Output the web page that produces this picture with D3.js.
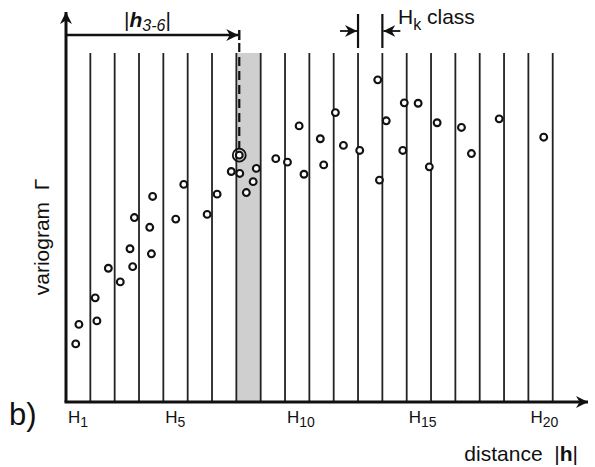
<!DOCTYPE html>
<html>
<head>
<meta charset="utf-8">
<script src="https://cdn.jsdelivr.net/npm/d3@7"></script>
<style>
  body { margin: 0; background: #fff; }
  text { font-family: "Liberation Sans", Arial, sans-serif; fill: #111; white-space: pre; }
</style>
</head>
<body>
<div id="chart"></div>
<script>
// lag classes H1..H20 (boundaries at 1..20 class widths)
const classBounds = d3.range(1, 21)
const classTicks = [1, 5, 10, 15, 20]

// experimental variogram points: distance (class units) and gamma
const distances = [0.40, 0.53, 1.20, 1.27, 1.74, 2.23, 2.63, 2.74, 2.81, 3.44, 3.51, 3.56,
  4.51, 4.84, 5.80, 6.21, 6.79, 7.12, 7.14, 7.41, 7.69, 7.82, 8.62, 9.10, 9.58, 9.78,
  10.45, 10.59, 11.07, 11.40, 12.07, 12.81, 12.88, 13.16, 13.84, 13.90, 14.47, 14.93,
  15.25, 16.25, 16.66, 17.80, 19.63]
const gammas = [1.49, 1.99, 2.67, 2.08, 3.43, 3.08, 3.93, 3.47, 4.73, 4.48, 3.80, 5.27,
  4.69, 5.58, 4.81, 5.33, 5.91, 6.33, 5.86, 5.37, 5.65, 5.99, 6.24, 6.15, 7.08, 5.84,
  6.75, 6.08, 7.42, 6.58, 6.45, 8.26, 5.69, 7.21, 6.45, 7.67, 7.66, 6.03,
  7.16, 7.04, 6.37, 7.26, 6.79]
const highlightIdx = 17   // the point marked |h3-6|
const shadedClass = 8     // grey class
const hkClass = 13        // class used for the "Hk class" bracket

const width = 595, height = 467
const x0 = 66, y0 = 402

const svg = d3.select('#chart').append('svg')
  .attr('width', width)
  .attr('height', height)

const x = d3.scaleLinear().domain([0, 21.45]).range([x0, 588])
const y = d3.scaleLinear().domain([0, 10]).range([y0, 12])
const lineTop = 8.95

const defs = svg.append('defs')
defs.append('marker')
  .attr('id', 'arrow')
  .attr('viewBox', '0 0 10 10')
  .attr('refX', 10).attr('refY', 5)
  .attr('markerWidth', 12).attr('markerHeight', 12)
  .attr('markerUnits', 'userSpaceOnUse')
  .attr('orient', 'auto')
  .append('path')
  .attr('d', 'M0,0 L10,5 L0,10 L3,5 Z')
  .attr('fill', '#111')

// shaded class
svg.append('rect')
  .attr('x', x(shadedClass - 1))
  .attr('y', y(lineTop))
  .attr('width', x(shadedClass) - x(shadedClass - 1))
  .attr('height', y(0) - y(lineTop))
  .attr('fill', '#cfcfcf')

// class boundaries
svg.append('g').selectAll('line')
  .data(classBounds)
  .enter().append('line')
  .attr('x1', d => x(d)).attr('x2', d => x(d))
  .attr('y1', y(lineTop)).attr('y2', y(0))
  .attr('stroke', '#222')
  .attr('stroke-width', 1.8)

// axes
svg.append('line')
  .attr('x1', x0).attr('y1', y0).attr('x2', x0).attr('y2', y(10))
  .attr('stroke', '#111').attr('stroke-width', 3)
  .attr('marker-end', 'url(#arrow)')
svg.append('line')
  .attr('x1', x0 - 1.5).attr('y1', y0).attr('x2', x(21.45)).attr('y2', y0)
  .attr('stroke', '#111').attr('stroke-width', 3)
  .attr('marker-end', 'url(#arrow)')

// |h3-6| distance arrow
const hx = x(distances[highlightIdx])
const hy = y(9.41)
svg.append('line')
  .attr('x1', x0).attr('y1', hy).attr('x2', hx - 1).attr('y2', hy)
  .attr('stroke', '#111').attr('stroke-width', 2.4)
  .attr('marker-end', 'url(#arrow)')
svg.append('line')
  .attr('x1', hx).attr('x2', hx).attr('y1', hy - 5).attr('y2', hy + 5)
  .attr('stroke', '#111').attr('stroke-width', 2.4)
svg.append('line')
  .attr('x1', hx).attr('x2', hx).attr('y1', hy + 8).attr('y2', y(gammas[highlightIdx]) - 7)
  .attr('stroke', '#111').attr('stroke-width', 2.2)
  .attr('stroke-dasharray', '9,5')

const hl = svg.append('text').attr('x', 124).attr('y', 27).attr('font-size', 21)
hl.append('tspan').text('|')
hl.append('tspan').attr('font-weight', 'bold').attr('font-style', 'italic').text('h')
hl.append('tspan').attr('font-style', 'italic').attr('font-size', 16).attr('dy', 4).text('3-6')
hl.append('tspan').attr('dy', -4).text('|')

// Hk class bracket
const kx1 = x(hkClass - 1), kx2 = x(hkClass)
svg.selectAll('.hk').data([kx1, kx2]).enter().append('line')
  .attr('x1', d => d).attr('x2', d => d).attr('y1', 14).attr('y2', 48)
  .attr('stroke', '#111').attr('stroke-width', 2.2)
svg.append('line')
  .attr('x1', kx1 - 18).attr('x2', kx1 - 1).attr('y1', 31).attr('y2', 31)
  .attr('stroke', '#111').attr('stroke-width', 1.8)
  .attr('marker-end', 'url(#arrow)')
svg.append('line')
  .attr('x1', kx2 + 18).attr('x2', kx2 + 1).attr('y1', 31).attr('y2', 31)
  .attr('stroke', '#111').attr('stroke-width', 1.8)
  .attr('marker-end', 'url(#arrow)')
const hk = svg.append('text').attr('x', 398).attr('y', 24).attr('font-size', 21)
hk.append('tspan').text('H')
hk.append('tspan').attr('font-size', 16).attr('dy', 6).text('k')
hk.append('tspan').attr('dy', -6).text(' class')

// points
svg.append('g').selectAll('circle')
  .data(distances.map((d, i) => [d, gammas[i]]))
  .enter().append('circle')
  .attr('cx', d => x(d[0]))
  .attr('cy', d => y(d[1]))
  .attr('r', 3.4)
  .attr('fill', '#fff')
  .attr('stroke', '#111')
  .attr('stroke-width', 2.1)
svg.append('circle')
  .attr('cx', hx).attr('cy', y(gammas[highlightIdx]))
  .attr('r', 6.5)
  .attr('fill', 'none')
  .attr('stroke', '#111')
  .attr('stroke-width', 1.8)

// class labels
const tl = svg.append('g').selectAll('text')
  .data(classTicks)
  .enter().append('text')
  .attr('x', d => x(d - 1) + 2)
  .attr('y', 423)
  .attr('font-size', 17)
tl.append('tspan').text('H')
tl.append('tspan').attr('font-size', 14).attr('dy', 4).text(d => d)

// axis titles
const xt = svg.append('text').attr('x', 578).attr('y', 461)
  .attr('text-anchor', 'end').attr('font-size', 21)
xt.append('tspan').text('distance  |')
xt.append('tspan').attr('font-weight', 'bold').text('h')
xt.append('tspan').text('|')

svg.append('text')
  .attr('transform', 'translate(49,237) rotate(-90)')
  .attr('text-anchor', 'middle')
  .attr('font-size', 21)
  .text('variogram  Γ')

svg.append('text')
  .attr('x', 9).attr('y', 425)
  .attr('font-size', 31)
  .text('b)')
</script>
</body>
</html>
